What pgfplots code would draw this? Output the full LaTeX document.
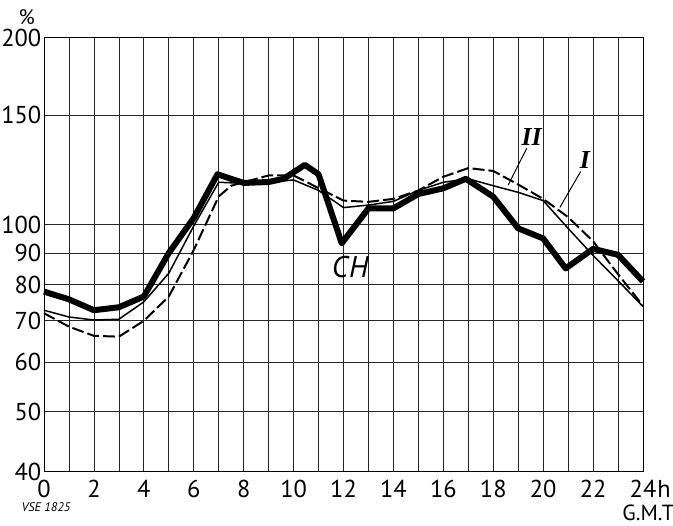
\documentclass[border=0pt]{standalone}
\usepackage{pgfplots}
\pgfplotsset{compat=1.18}
\usepackage{fontspec}
\setmainfont{PT Sans}
\newfontfamily\serifnum{Liberation Serif}
\begin{document}
\begin{tikzpicture}
\useasboundingbox (-44bp,-54.3bp) rectangle (629bp,471.7bp);
\begin{axis}[at={(0,0)}, anchor=south west, scale only axis,
  width=599bp, height=434bp,
  ymode=log, xmin=0, xmax=24, ymin=40, ymax=200,
  xtick={0,...,24},
  xticklabels={0,,2,,4,,6,,8,,10,,12,,14,,16,,18,,20,,22,,24},
  ytick={40,50,60,70,80,90,100,150,200},
  yticklabels={40,50,60,70,80,90,100,150,200},
  grid=major, major grid style={black!85, line width=0.7bp},
  axis line style={black, line width=0.9bp},
  major tick length=0pt,
  tick label style={font=\fontsize{24.5}{24.5}\selectfont, inner sep=0pt},
  xticklabel style={anchor=north, yshift=-8bp},
  yticklabel style={anchor=east, xshift=-2.5bp},
  clip=false,
]
\addplot[black, line width=2bp, dash pattern=on 12bp off 4bp, line join=round] coordinates {
(0,72) (1,68.5) (2,66.2) (3,66) (4,70) (5,76.6) (6,91) (7,111) (7.5,115.5) (8,117)
(9,120) (10,120) (11,114.5) (12,109.3) (13,108.8) (14,110) (15,113.5) (16,119.4)
(17,123.3) (18,122) (19,116) (20,110) (21,102.8) (22,94) (23,83.2) (24,74)};
\addplot[black, line width=1.5bp, line join=round] coordinates {
(0,72.8) (1,71) (2,70.2) (3,70.4) (4,75.1) (5,83.5) (6,99.5) (7,117) (8,116.5)
(9,117) (10,118) (11,113.5) (12,106.5) (13,107.5) (14,109) (15,113.5) (16,117)
(17,118.5) (18,115.5) (19,112.7) (20,109.3) (21,98.6) (22,89.2) (23,81.2) (24,73.8)};
\addplot[black, line width=6bp, line join=round] coordinates {
(0,78) (1,75.8) (2,72.8) (3,73.6) (4,76.6) (5,90) (6,102.5) (6.95,120.5) (8,116.7)
(9,117.1) (9.6,118.5) (10.45,124.8) (11,120.5) (11.93,93.3) (13,106.2) (14,106.2)
(15,112) (16,114.4) (16.9,118.5) (18,110.9) (19,98.6) (20,95) (20.9,85) (22,91.4)
(23,89.4) (24,81)};
\draw[black, line width=1bp] (axis cs:19.34,132.7) -- (axis cs:18.6,115.8);
\draw[black, line width=1bp] (axis cs:21.5,121.7) -- (axis cs:20.67,106.6);
\node[font=\fontsize{30}{30}\selectfont\itshape, inner sep=0pt] at (axis cs:12.26,85.4) {C\kern1bp H};
\node[font=\fontsize{26}{26}\selectfont\serifnum\itshape\bfseries, inner sep=0pt] at (axis cs:19.54,138.6) {II};
\node[font=\fontsize{26}{26}\selectfont\serifnum\itshape\bfseries, inner sep=0pt] at (axis cs:21.67,127.1) {I};
\end{axis}
\node[font=\fontsize{21}{21}\selectfont, inner sep=0pt] at (-17.3bp,455bp) {\%};
\node[font=\fontsize{24.5}{24.5}\selectfont, inner sep=0pt] at (620bp,-17.3bp) {h};
\node[font=\fontsize{22}{22}\selectfont, inner sep=0pt] at (604.3bp,-41.6bp) {G.M.T};
\node[font=\fontsize{12.5}{12.5}\selectfont\itshape, inner sep=0pt] at (2bp,-35.3bp) {VSE 1825};
\end{tikzpicture}
\end{document}
